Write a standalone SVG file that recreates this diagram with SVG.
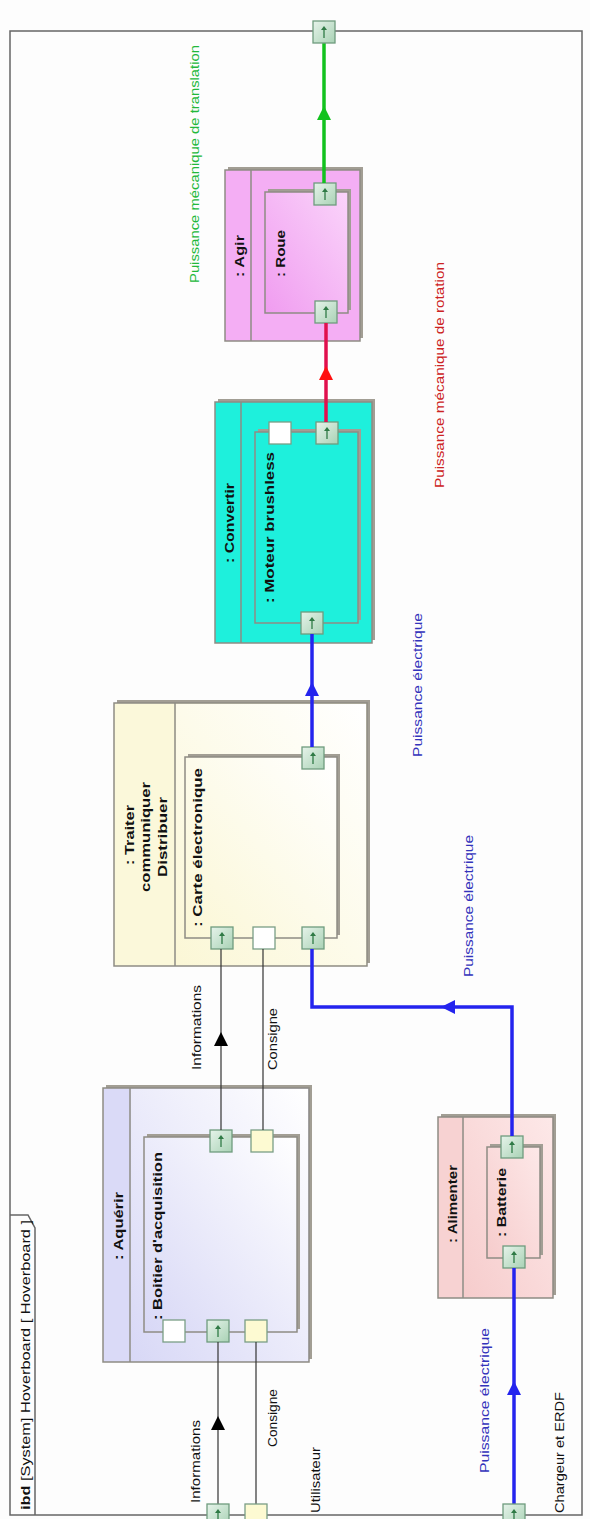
<svg xmlns="http://www.w3.org/2000/svg" width="590" height="1519" viewBox="0 0 590 1519">
<style>
text{font-family:"Liberation Sans",Arial,sans-serif;font-size:13px;fill:#111}
.b{font-weight:bold}
.bl{fill:#3333bb}
.rd{fill:#cc2222}
.gn{fill:#22b83a}
.frame{fill:none;stroke:#666;stroke-width:1.5}
.sh{fill:#a29e94}
.box{stroke:#8e8c84;stroke-width:1.5}
.div{stroke:#8e8c84;stroke-width:1.5}
.cb{stroke:#2424ee;stroke-width:3.5;fill:none}
.cr{stroke:#e0104e;stroke-width:3.5;fill:none}
.cg{stroke:#12c21e;stroke-width:3.5;fill:none}
.ck{stroke:#333;stroke-width:1.2;fill:none}
</style>
<defs>
<linearGradient id="gport" x1="0" y1="0" x2="1" y2="1">
<stop offset="0" stop-color="#e6f3ea"/><stop offset="1" stop-color="#a9d2b5"/>
</linearGradient>
<linearGradient id="gAq" x1="1" y1="0" x2="0" y2="1">
<stop offset="0" stop-color="#ffffff"/><stop offset="1" stop-color="#d8d8f6"/>
</linearGradient>
<linearGradient id="gTr" x1="1" y1="0" x2="0" y2="1">
<stop offset="0" stop-color="#ffffff"/><stop offset="1" stop-color="#fbf7d6"/>
</linearGradient>
<linearGradient id="gAg" x1="1" y1="0" x2="0" y2="1">
<stop offset="0" stop-color="#fad4fa"/><stop offset="1" stop-color="#f09cf0"/>
</linearGradient>
<linearGradient id="gAl" x1="1" y1="0" x2="0" y2="1">
<stop offset="0" stop-color="#fde8e8"/><stop offset="1" stop-color="#f6cccc"/>
</linearGradient>
<g id="pg">
<rect x="-11" y="-11" width="22" height="22" fill="url(#gport)" stroke="#6f9c7e" stroke-width="1.3"/>
<path d="M0,6V-3" stroke="#2f7a45" stroke-width="1.3"/>
<path d="M-3,-2L0,-6L3,-2Z" fill="#2f7a45"/>
</g>
<g id="py">
<rect x="-11" y="-11" width="22" height="22" fill="#fdfad2" stroke="#7a9e86" stroke-width="1.3"/>
</g>
<g id="pw">
<rect x="-11" y="-11" width="22" height="22" fill="#ffffff" stroke="#7a9e86" stroke-width="1.3"/>
</g>
</defs>
<rect x="0" y="0" width="590" height="1519" fill="#fdfdfd"/>

<g id="frame">
<rect class="frame" x="10" y="31" width="572" height="1484"/>
<path class="frame" d="M10,1215H28L35,1228V1515"/>
<text transform="translate(30,1510) rotate(-90)" style="font-size:13.5px" textLength="290" lengthAdjust="spacingAndGlyphs"><tspan class="b">ibd</tspan> [System] Hoverboard [ Hoverboard ]</text>
</g>

<g id="aquerir">
<rect class="sh" x="106" y="1085" width="206" height="274"/>
<rect class="box" x="103" y="1088" width="206" height="274" fill="#dadaf7"/>
<rect x="131" y="1089" width="177" height="272" fill="url(#gAq)"/>
<line class="div" x1="130" y1="1088" x2="130" y2="1362"/>
<text class="b" transform="translate(123,1260) rotate(-90)" textLength="68" lengthAdjust="spacingAndGlyphs">: Aquérir</text>
</g>
<g id="boitier">
<rect class="sh" x="147" y="1134" width="153" height="195"/>
<rect class="box" x="144" y="1137" width="153" height="195" fill="url(#gAq)"/>
<text class="b" transform="translate(162,1320) rotate(-90)" textLength="168" lengthAdjust="spacingAndGlyphs">: Boitier d'acquisition</text>
<use href="#pw" x="174" y="1331"/>
<use href="#pg" x="218" y="1331"/>
<use href="#py" x="256" y="1331"/>
<use href="#pg" x="221" y="1141"/>
<use href="#py" x="262" y="1141"/>
</g>

<g id="traiter">
<rect class="sh" x="117" y="700" width="253" height="263"/>
<rect class="box" x="114" y="703" width="253" height="263" fill="#fbf8da"/>
<rect x="176" y="704" width="190" height="261" fill="url(#gTr)"/>
<line class="div" x1="175" y1="703" x2="175" y2="966"/>
<text class="b" transform="translate(134,865) rotate(-90)" textLength="60" lengthAdjust="spacingAndGlyphs">: Traiter</text>
<text class="b" transform="translate(150,892) rotate(-90)" textLength="110" lengthAdjust="spacingAndGlyphs">communiquer</text>
<text class="b" transform="translate(167,877) rotate(-90)" textLength="80" lengthAdjust="spacingAndGlyphs">Distribuer</text>
</g>
<g id="carte">
<rect class="sh" x="188" y="754" width="152" height="181"/>
<rect class="box" x="185" y="757" width="152" height="181" fill="url(#gTr)"/>
<text class="b" transform="translate(202,927) rotate(-90)" textLength="159" lengthAdjust="spacingAndGlyphs">: Carte électronique</text>
<use href="#pg" x="222" y="938"/>
<use href="#pw" x="264" y="938"/>
<use href="#pg" x="313" y="938"/>
<use href="#pg" x="313" y="758"/>
</g>

<g id="convertir">
<rect class="sh" x="218" y="399" width="157" height="241"/>
<rect class="box" x="215" y="402" width="157" height="241" fill="#1ef0dc"/>
<line class="div" x1="241" y1="402" x2="241" y2="643"/>
<text class="b" transform="translate(234,563) rotate(-90)" textLength="80" lengthAdjust="spacingAndGlyphs">: Convertir</text>
</g>
<g id="moteur">
<rect class="sh" x="258" y="429" width="103" height="191"/>
<rect class="box" x="255" y="432" width="103" height="191" fill="#1ef0dc"/>
<text class="b" transform="translate(274,603) rotate(-90)" textLength="151" lengthAdjust="spacingAndGlyphs">: Moteur brushless</text>
<use href="#pg" x="312" y="623"/>
<use href="#pw" x="280" y="433"/>
<use href="#pg" x="327" y="433"/>
</g>

<g id="agir">
<rect class="sh" x="228" y="167" width="135" height="171"/>
<rect class="box" x="225" y="170" width="135" height="171" fill="#f4aef4"/>
<line class="div" x1="251" y1="170" x2="251" y2="341"/>
<text class="b" transform="translate(244,277) rotate(-90)" textLength="42" lengthAdjust="spacingAndGlyphs">: Agir</text>
</g>
<g id="roue">
<rect class="sh" x="268" y="189" width="83" height="121"/>
<rect class="box" x="265" y="192" width="83" height="121" fill="url(#gAg)"/>
<text class="b" transform="translate(285,277) rotate(-90)" textLength="47" lengthAdjust="spacingAndGlyphs">: Roue</text>
<use href="#pg" x="325" y="194"/>
<use href="#pg" x="326" y="312"/>
</g>

<g id="alimenter">
<rect class="sh" x="441" y="1114" width="115" height="181"/>
<rect class="box" x="438" y="1117" width="115" height="181" fill="#f7d2d2"/>
<rect x="464" y="1118" width="88" height="179" fill="url(#gAl)"/>
<line class="div" x1="463" y1="1117" x2="463" y2="1298"/>
<text class="b" transform="translate(457,1243) rotate(-90)" textLength="78" lengthAdjust="spacingAndGlyphs">: Alimenter</text>
</g>
<g id="batterie">
<rect class="sh" x="490" y="1144" width="53" height="111"/>
<rect class="box" x="487" y="1147" width="53" height="111" fill="url(#gAl)"/>
<text class="b" transform="translate(506,1237) rotate(-90)" textLength="69" lengthAdjust="spacingAndGlyphs">: Batterie</text>
<use href="#pg" x="512" y="1147"/>
<use href="#pg" x="514" y="1257"/>
</g>

<g id="connectors">
<path class="ck" d="M218,1505V1342"/>
<polygon points="218,1416 211,1430 225,1430" fill="#000"/>
<path class="ck" d="M256,1505V1342"/>
<path class="ck" d="M221,1130V949"/>
<polygon points="221,1032 214,1046 228,1046" fill="#000"/>
<path class="ck" d="M263,1130V949"/>
<path class="cb" d="M514,1505V1268"/>
<polygon points="514,1381 507,1395 521,1395" fill="#2424ee"/>
<path class="cb" d="M512,1136V1007H312V949"/>
<polygon points="441,1007 455,1000 455,1014" fill="#2424ee"/>
<path class="cb" d="M312,747V634"/>
<polygon points="312,682 305,696 319,696" fill="#2424ee"/>
<path class="cr" d="M326,422V323"/>
<polygon points="326,366 319,380 333,380" fill="#ff1010"/>
<path class="cg" d="M324,183V43"/>
<polygon points="324,106 317,120 331,120" fill="#12c21e"/>
</g>

<g id="frame-ports">
<use href="#pg" x="218" y="1515"/>
<use href="#py" x="256" y="1515"/>
<use href="#pg" x="514" y="1515"/>
<use href="#pg" x="324" y="32"/>
</g>

<g id="labels">
<text transform="translate(200,1503) rotate(-90)" textLength="83" lengthAdjust="spacingAndGlyphs">Informations</text>
<text transform="translate(277,1447) rotate(-90)" textLength="58" lengthAdjust="spacingAndGlyphs">Consigne</text>
<text transform="translate(320,1513) rotate(-90)" textLength="66" lengthAdjust="spacingAndGlyphs">Utilisateur</text>
<text class="bl" transform="translate(489,1473) rotate(-90)" textLength="145" lengthAdjust="spacingAndGlyphs">Puissance électrique</text>
<text transform="translate(564,1513) rotate(-90)" textLength="121" lengthAdjust="spacingAndGlyphs">Chargeur et ERDF</text>
<text transform="translate(201,1070) rotate(-90)" textLength="85" lengthAdjust="spacingAndGlyphs">Informations</text>
<text transform="translate(277,1070) rotate(-90)" textLength="62" lengthAdjust="spacingAndGlyphs">Consigne</text>
<text class="bl" transform="translate(473,977) rotate(-90)" textLength="142" lengthAdjust="spacingAndGlyphs">Puissance électrique</text>
<text class="bl" transform="translate(422,757) rotate(-90)" textLength="144" lengthAdjust="spacingAndGlyphs">Puissance électrique</text>
<text class="rd" transform="translate(444,488) rotate(-90)" textLength="226" lengthAdjust="spacingAndGlyphs">Puissance mécanique de rotation</text>
<text class="gn" transform="translate(199,283) rotate(-90)" textLength="238" lengthAdjust="spacingAndGlyphs">Puissance mécanique de translation</text>
</g>
</svg>
